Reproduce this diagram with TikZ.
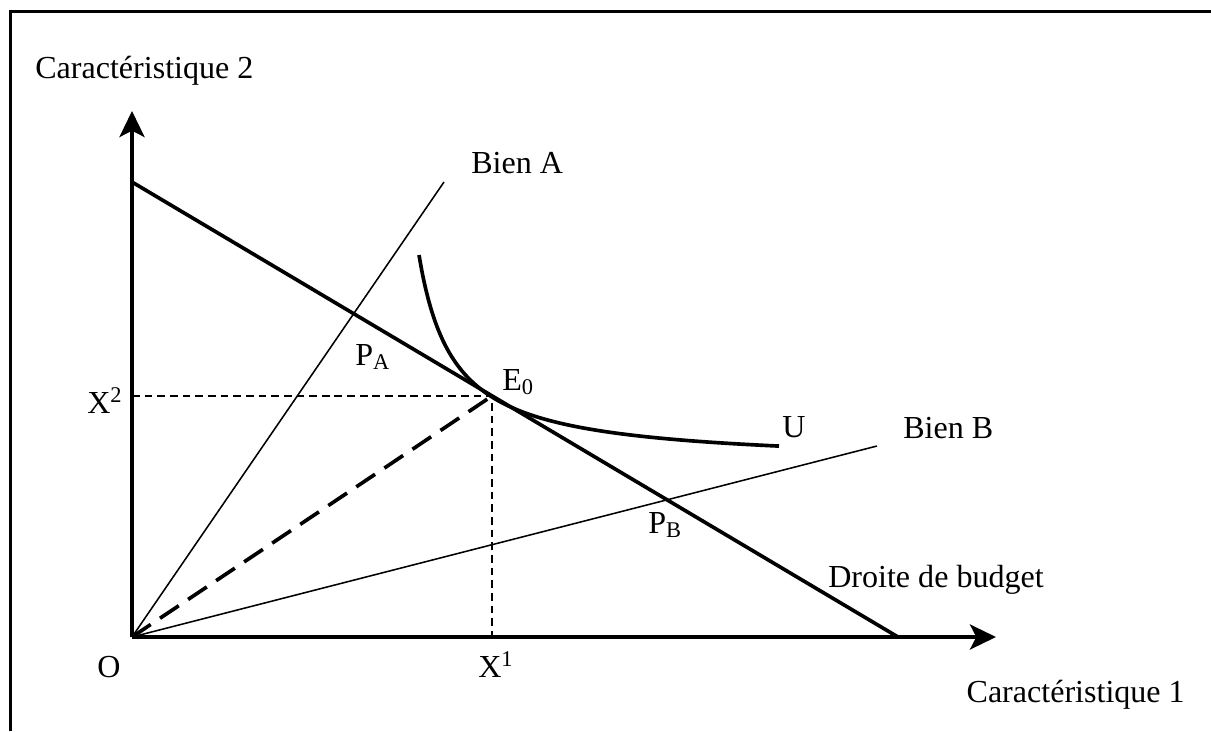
\documentclass[tikz,border=0pt]{standalone}
\usepackage{fontspec}
\setmainfont{Liberation Serif}
\usetikzlibrary{arrows.meta, calc}

\begin{document}
\begin{tikzpicture}[x=0.025cm, y=-0.025cm, font=\fontsize{22.8}{27}\selectfont,
    heavy/.style={line width=2.6pt},
    light/.style={line width=1.1pt},
    guide/.style={line width=1.1pt, dash pattern=on 5.5pt off 3.5pt},
    longdash/.style={heavy, dash pattern=on 16pt off 8pt},
    axis/.style={heavy, -{Stealth[length=18.5pt, width=17.8pt, inset=4.5pt]}},
    txt/.style={inner sep=0pt, anchor=base west}]
  \useasboundingbox (0,0) rectangle (1211,731);
  \draw[heavy] (10.5,731) -- (10.5,11.5) -- (1211,11.5);

  % points of the diagram
  \coordinate (O)    at (132,637);
  \coordinate (Ytip) at (132,111);
  \coordinate (Xtip) at (996,637);
  \coordinate (Bup)  at (132,182);
  \coordinate (Bdown) at (898,637);
  \coordinate (Aend) at (444,182);
  \coordinate (Bend) at (877,446);
  \coordinate (E0)   at (492,396);
  \coordinate (X2)   at (132,396);
  \coordinate (X1)   at (492,637);

  \draw[axis] (O) -- (Ytip);
  \draw[axis] (O) -- (Xtip);

  \draw[light] (O) -- (Aend);
  \draw[light] (O) -- (Bend);
  \draw[heavy] (Bup) -- (Bdown);
  \draw[heavy] plot[domain=419:779, samples=120, smooth]
      (\x, {464.5 - 7269/(\x-384.3)});

  \draw[guide] (X2) -- (E0) -- (X1);
  \draw[longdash] (O) -- (E0);

  \node[txt] (c2) at (35,78) {Caractéristique 2};
  \node[txt, anchor=base east] (c1) at (1185,702) {Caractéristique 1};
  \node[txt] (o)  at (97,677) {O};
  \node[txt] (x1) at (478,677) {X\textsuperscript{1}};
  \node[txt] (x2) at (87,413) {X\textsuperscript{2}};
  \node[txt] (pa) at (355,365) {P\textsubscript{A}};
  \node[txt] (pb) at (648,533) {P\textsubscript{B}};
  \node[txt] (e0) at (502,390) {E\textsubscript{0}};
  \node[txt] (u)  at (782,437) {U};
  \node[txt] (ba) at (471,173) {Bien A};
  \node[txt] (bb) at (903,438) {Bien B};
  \node[txt] (db) at (828,587) {Droite de budget};
\end{tikzpicture}
\end{document}
